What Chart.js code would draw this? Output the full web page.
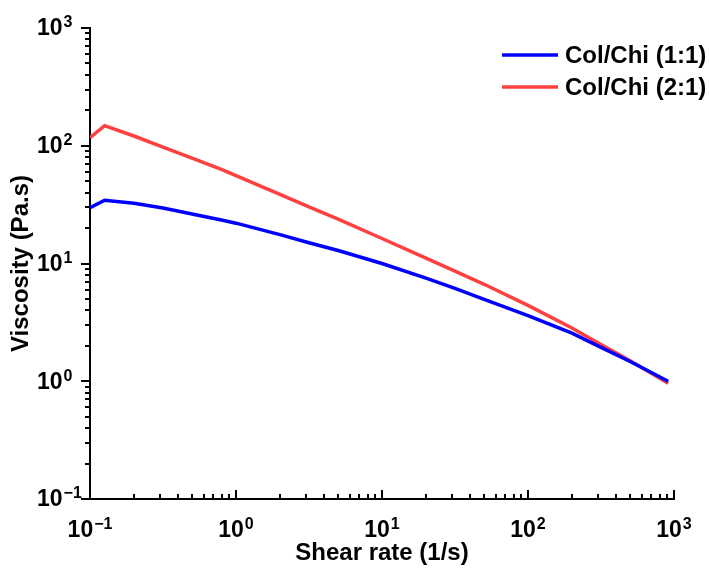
<!DOCTYPE html>
<html>
<head>
<meta charset="utf-8">
<script src="https://cdn.jsdelivr.net/npm/chart.js@4"></script>
<style>
  html, body { margin: 0; padding: 0; background: #fff; }
  #wrap { width: 709px; height: 569px; }
</style>
</head>
<body>
<div id="wrap"><canvas id="viscChart"></canvas></div>
<script>
// shear rate (1/s)
const shearRate = [0.1, 0.126, 0.2, 0.316, 0.5, 0.794, 1, 2, 3.16, 5.01, 10, 20, 31.6, 50.1, 100, 200, 316, 501, 912];
// viscosity (Pa.s)
const viscCol11 = [29.8, 34.5, 32.5, 29.6, 26.3, 23.4, 22.0, 17.6, 15.0, 12.9, 10.0, 7.5, 6.15, 4.95, 3.61, 2.56, 1.94, 1.47, 1.0];
const viscCol21 = [117, 148, 121, 97.5, 78.5, 63.1, 55.7, 38.6, 30.3, 23.8, 16.3, 11.1, 8.6, 6.66, 4.41, 2.83, 2.05, 1.49, 0.96];
const seriesNames = ["Col/Chi (1:1)", "Col/Chi (2:1)"];
const seriesColors = ["#0000ff", "#ff4040"];
const decadeTicks = [0.1, 1, 10, 100, 1000];
const decadeExps = ["\u22121", "0", "1", "2", "3"];

const FONT = "'Liberation Sans', Arial, sans-serif";

function pts(ys) {
  return shearRate.map((x, i) => ({ x: x, y: ys[i] }));
}

// tick marks, superscript tick labels and the legend
const axisDecor = {
  id: "axisDecor",
  afterDraw(chart) {
    const c = chart.ctx;
    const xs = chart.scales.x, ys = chart.scales.y;
    const area = chart.chartArea;
    c.save();
    c.strokeStyle = "#000";
    c.lineWidth = 2;
    // minor + major ticks
    for (let d = -1; d <= 2; d++) {
      for (let m = 1; m <= 10; m++) {
        const v = m * Math.pow(10, d);
        const major = (m === 1 || m === 10);
        const px = Math.round(xs.getPixelForValue(v));
        const py = Math.round(ys.getPixelForValue(v));
        const len = major ? 9 : 5;
        c.beginPath();
        c.moveTo(px, area.bottom);
        c.lineTo(px, area.bottom - len);
        c.stroke();
        c.beginPath();
        c.moveTo(area.left, py);
        c.lineTo(area.left - len, py);
        c.stroke();
      }
    }
    // labels
    c.fillStyle = "#000";
    c.textBaseline = "middle";
    decadeTicks.forEach((v, i) => {
      const big = "bold 23px " + FONT, small = "bold 16px " + FONT;
      c.font = big;
      const w1 = c.measureText("10").width;
      c.font = small;
      const w2 = c.measureText(decadeExps[i]).width;
      // y axis
      const py = ys.getPixelForValue(v);
      c.textAlign = "left";
      c.font = big;
      c.fillText("10", 37, py + 1);
      c.font = small;
      c.fillText(decadeExps[i], 37 + w1 + 1, py - 5);
      // x axis
      const px = xs.getPixelForValue(v);
      const x0 = px - (w1 + w2 + 1) / 2;
      c.font = big;
      c.fillText("10", x0, 531);
      c.font = small;
      c.fillText(decadeExps[i], x0 + w1 + 1, 525);
    });
    // legend
    chart.data.datasets.forEach((ds, i) => {
      const ly = 55 + i * 32;
      c.strokeStyle = ds.borderColor;
      c.lineWidth = 3.5;
      c.beginPath();
      c.moveTo(502, ly);
      c.lineTo(558, ly);
      c.stroke();
      c.fillStyle = "#000";
      c.textAlign = "left";
      c.font = "bold 24px " + FONT;
      c.fillText(ds.label, 565, ly + 1);
    });
    c.restore();
  }
};

const ctx = document.getElementById("viscChart").getContext("2d");
const viscChart = new Chart(ctx, {
  type: "line",
  data: {
    datasets: [
      { label: seriesNames[0], data: pts(viscCol11), borderColor: seriesColors[0], backgroundColor: seriesColors[0] },
      { label: seriesNames[1], data: pts(viscCol21), borderColor: seriesColors[1], backgroundColor: seriesColors[1] }
    ]
  },
  options: {
    responsive: true,
    maintainAspectRatio: false,
    animation: false,
    layout: { padding: { left: 7, top: 28, right: 35, bottom: 1 } },
    elements: {
      line: { borderWidth: 3.5, tension: 0, fill: false },
      point: { radius: 0 }
    },
    scales: {
      x: {
        type: "logarithmic",
        min: 0.1,
        max: 1000,
        grid: { display: false },
        border: { display: true, color: "#000", width: 2 },
        ticks: { display: false },
        afterBuildTicks: s => { s.ticks = decadeTicks.map(v => ({ value: v })); },
        afterFit: s => { s.height = 69; },
        title: { display: true, text: "Shear rate (1/s)", color: "#000", padding: 0,
                 font: { family: FONT, size: 24, weight: "bold" } }
      },
      y: {
        type: "logarithmic",
        min: 0.1,
        max: 1000,
        grid: { display: false },
        border: { display: true, color: "#000", width: 2 },
        ticks: { display: false },
        afterBuildTicks: s => { s.ticks = decadeTicks.map(v => ({ value: v })); },
        afterFit: s => { s.width = 83; },
        title: { display: true, text: "Viscosity (Pa.s)", color: "#000", padding: 0,
                 font: { family: FONT, size: 24, weight: "bold" } }
      }
    },
    plugins: {
      legend: { display: false },
      tooltip: { enabled: false }
    }
  },
  plugins: [axisDecor]
});
</script>
</body>
</html>
